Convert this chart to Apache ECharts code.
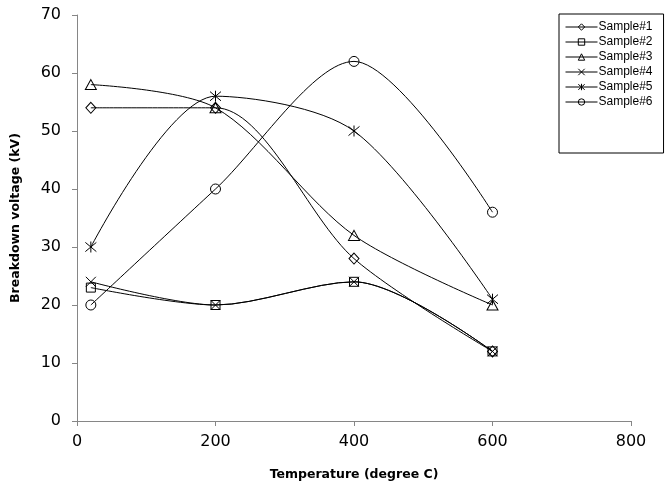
<!DOCTYPE html>
<html>
<head>
<meta charset="utf-8">
<script src="https://cdn.jsdelivr.net/npm/echarts@6/dist/echarts.min.js"></script>
<style>html,body{margin:0;padding:0;background:#fff}#c{width:665px;height:491px}</style>
</head>
<body>
<div id="c"></div>
<script>
const temperatures = [20, 200, 400, 600];
const sample1 = [54, 54, 28, 12];
const sample2 = [23, 20, 24, 12];
const sample3 = [58, 54, 32, 20];
const sample4 = [24, 20, 24, 12];
const sample5 = [30, 56, 50, 21];
const sample6 = [20, 40, 62, 36];
const seriesNames = ['Sample#1', 'Sample#2', 'Sample#3', 'Sample#4', 'Sample#5', 'Sample#6'];
const xTicks = [0, 200, 400, 600, 800];
const yTicks = [0, 10, 20, 30, 40, 50, 60, 70];

const allData = [sample1, sample2, sample3, sample4, sample5, sample6];
const symbols = [
  {symbol: 'diamond', size: [10, 11]},
  {symbol: 'rect', size: 9},
  {symbol: 'triangle', size: [11, 10]},
  {symbol: 'path://M0 0L10 10M10 0L0 10', size: 10},
  {symbol: 'path://M0 0L10 10M10 0L0 10M5 -1L5 11', size: 11},
  {symbol: 'circle', size: 10}
];

const chart = echarts.init(document.getElementById('c'), null, {renderer: 'canvas'});
const axisColor = '#868686';
const tickFont = {fontFamily: 'DejaVu Sans', fontSize: 16, color: '#000'};
const titleFont = {fontFamily: 'DejaVu Sans', fontSize: 12.5, fontWeight: 'bold', color: '#000'};
chart.setOption({
  animation: false,
  backgroundColor: '#fff',
  grid: {left: 77, right: 34, top: 15, bottom: 70, containLabel: false},
  legend: {
    orient: 'vertical',
    left: 559, top: 14,
    padding: [7, 11, 45, 6],
    itemGap: 3,
    itemWidth: 32, itemHeight: 8,
    borderColor: '#000', borderWidth: 1,
    backgroundColor: '#fff',
    lineStyle: {width: 1, color: '#000'},
    itemStyle: {borderWidth: 1, borderColor: '#000', color: 'rgba(255,255,255,0)'},
    textStyle: {fontFamily: 'Liberation Sans, Arial', fontSize: 12, lineHeight: 12, color: '#000', padding: [0, 0, 0, -4]},
    data: seriesNames
  },
  xAxis: {
    type: 'value', min: xTicks[0], max: xTicks[xTicks.length - 1], interval: 200,
    name: 'Temperature (degree C)', nameLocation: 'middle', nameGap: 47,
    nameTextStyle: titleFont,
    axisLine: {lineStyle: {color: axisColor, width: 1}},
    axisTick: {show: true, length: 5, inside: false, lineStyle: {color: axisColor}},
    axisLabel: Object.assign({margin: 13}, tickFont),
    splitLine: {show: false}
  },
  yAxis: {
    type: 'value', min: yTicks[0], max: yTicks[yTicks.length - 1], interval: 10,
    name: 'Breakdown voltage (kV)', nameLocation: 'middle', nameGap: 55,
    nameTextStyle: titleFont,
    axisLine: {show: true, lineStyle: {color: axisColor, width: 1}},
    axisTick: {show: true, length: 5, inside: false, lineStyle: {color: axisColor}},
    axisLabel: Object.assign({margin: 16}, tickFont),
    splitLine: {show: false}
  },
  series: allData.map((d, i) => ({
    name: seriesNames[i],
    type: 'line',
    smooth: 0.3,
    data: temperatures.map((t, j) => [t, d[j]]),
    symbol: symbols[i].symbol,
    symbolSize: symbols[i].size,
    showAllSymbol: true,
    lineStyle: {color: '#000', width: 1},
    itemStyle: {color: 'rgba(255,255,255,0)', borderColor: '#000', borderWidth: 1},
    emphasis: {disabled: true},
    z: 2
  }))
});
</script>
</body>
</html>
